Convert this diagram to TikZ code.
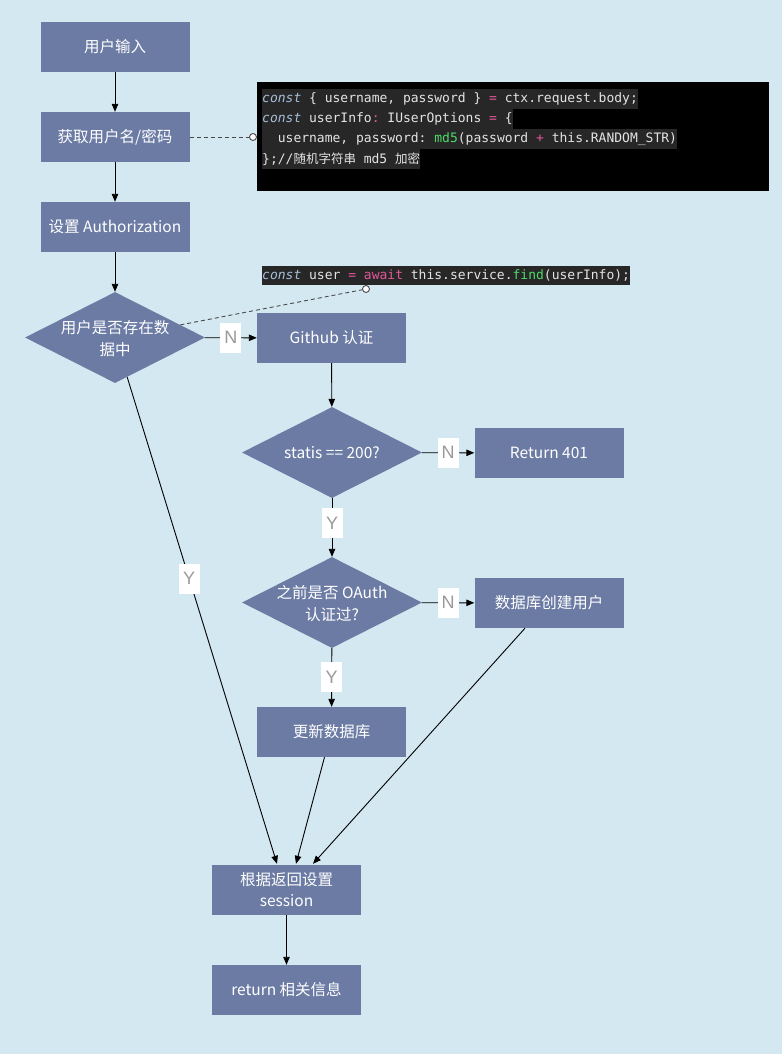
\documentclass[tikz,border=0pt]{standalone}
\usepackage{fontspec}
\setmainfont{Noto Sans CJK SC}
\setmonofont{DejaVu Sans Mono}
\newfontfamily\cjk{Noto Sans CJK SC}
\newfontfamily\labfont{Liberation Sans}
\usetikzlibrary{shapes.geometric,arrows.meta,calc}
\definecolor{bgc}{HTML}{D4E8F1}
\definecolor{nodec}{HTML}{6B7BA4}
\definecolor{labc}{HTML}{9A9A9A}
\definecolor{hlc}{HTML}{272727}
\definecolor{codec}{HTML}{E4E4E4}
\definecolor{kwc}{HTML}{A6BEDA}
\definecolor{pkc}{HTML}{E2579B}
\definecolor{grc}{HTML}{4ED96A}
\definecolor{dshc}{HTML}{4A4A4A}
\newcommand\kw[1]{\textcolor{kwc}{\itshape #1}}
\newcommand\pk[1]{\textcolor{pkc}{#1}}
\newcommand\gr[1]{\textcolor{grc}{#1}}
\newcommand\zh[1]{{\cjk\fontsize{12.5}{12.5}\selectfont #1}}
\begin{document}
\begin{tikzpicture}[x=1pt,y=-1pt,
  box/.style={rectangle, fill=nodec, text=white, minimum width=149pt, minimum height=50pt, inner sep=0pt, align=center, font=\fontsize{15.5}{21}\selectfont},
  dia/.style={diamond, fill=nodec, minimum width=180pt, minimum height=91pt, inner sep=0pt},
  diatext/.style={text=white, align=center, inner sep=0pt, font=\fontsize{15.5}{22}\selectfont},
  lab/.style={fill=white, text=labc, minimum width=21pt, minimum height=30pt, inner sep=0pt, font=\labfont\fontsize{18}{18}\selectfont},
  arr/.style={line width=0.9pt, -{Triangle[length=8pt,width=6.5pt]}},
  dsh/.style={draw=dshc, line width=0.9pt, dash pattern=on 4pt off 3pt},
  circ/.style={circle, draw=dshc, fill=white, line width=0.9pt, minimum size=7pt, inner sep=0pt},
  codeline/.style={anchor=west, fill=hlc, text=codec, inner sep=0pt, minimum height=20pt, font=\ttfamily\fontsize{13}{13}\selectfont}
]
\useasboundingbox (0,0) rectangle (782,1054);
\fill[bgc] (0,0) rectangle (782,1054);

% code block 1
\fill[black] (257,82) rectangle (769,191);
\node[codeline] (cl1) at (262,99) {\kw{const} \{ username, password \} \pk{=} ctx.request.body;};
\node[codeline] (cl2) at (262,119) {\kw{const} userInfo\pk{:} IUserOptions \pk{=} \{};
\node[codeline] (cl3) at (262,139) {\phantom{xx}username, password: \gr{md5}(password \pk{+} this.RANDOM\_STR)};
\node[codeline] (cl4) at (262,159) {\};//\zh{随机字符串} md5 \zh{加密}};
% code line 2
\node[codeline, minimum height=19pt] (cl5) at (262,275) {\kw{const} user \pk{=} \pk{await} this.service.\gr{find}(userInfo);};

% nodes
\node[box] (n1) at (115,47) {用户输入};
\node[box] (n2) at (115,137) {获取用户名/密码};
\node[box] (n3) at (115,227) {设置 Authorization};
\node[dia] (d1) at (115,337.5) {};
\node[diatext] (d1t) at (115,339) {用户是否存在数\\据中};
\node[box] (gh) at (331.5,338) {Github 认证};
\node[dia] (d2) at (332,452.5) {};
\node[diatext] (d2t) at (332,453) {statis == 200?};
\node[box] (r401) at (549,453) {Return 401};
\node[dia] (d3) at (332,602.5) {};
\node[diatext] (d3t) at (332,604) {之前是否 OAuth\\认证过?};
\node[box] (cre) at (549,603) {数据库创建用户};
\node[box] (upd) at (331.5,732) {更新数据库};
\node[box] (sess) at (286.5,890) {根据返回设置\\session};
\node[box] (ret) at (286.5,990) {return 相关信息};

% dashed links
\node[circ] (c1) at (253,137) {};
\node[circ] (c2) at (366,289) {};
\draw[dsh] (n2.east) -- (c1);
\draw[dsh] (d1) -- (c2);

% arrows
\draw[arr] (n1) -- (n2);
\draw[arr] (n2) -- (n3);
\draw[arr] (n3) -- (d1);
\draw[arr] (d1) -- node[lab]{N} (gh);
\draw[arr] (gh) -- (d2);
\draw[arr] (d2) -- node[lab]{N} (r401);
\draw[arr] (d2) -- node[lab, pos=0.42]{Y} (d3);
\draw[arr] (d3) -- node[lab]{N} (cre);
\draw[arr] (d3) -- node[lab]{Y} (upd);

\coordinate (sa) at ($(sess.north)+(-9.5,-1)$);
\coordinate (sb) at ($(sess.north)+(9.5,-1)$);
\coordinate (sc) at ($(sess.north)+(26.5,-1)$);
\coordinate (ua) at ($(upd.south)+(-7,0)$);
\coordinate (ca) at ($(cre.south)+(-24,0)$);
\draw[arr] (d1) -- node[lab, pos=0.414]{Y} (sa);
\draw[arr] (ua) -- (sb);
\draw[arr] (ca) -- (sc);
\draw[arr] (sess) -- (ret);
\end{tikzpicture}
\end{document}
